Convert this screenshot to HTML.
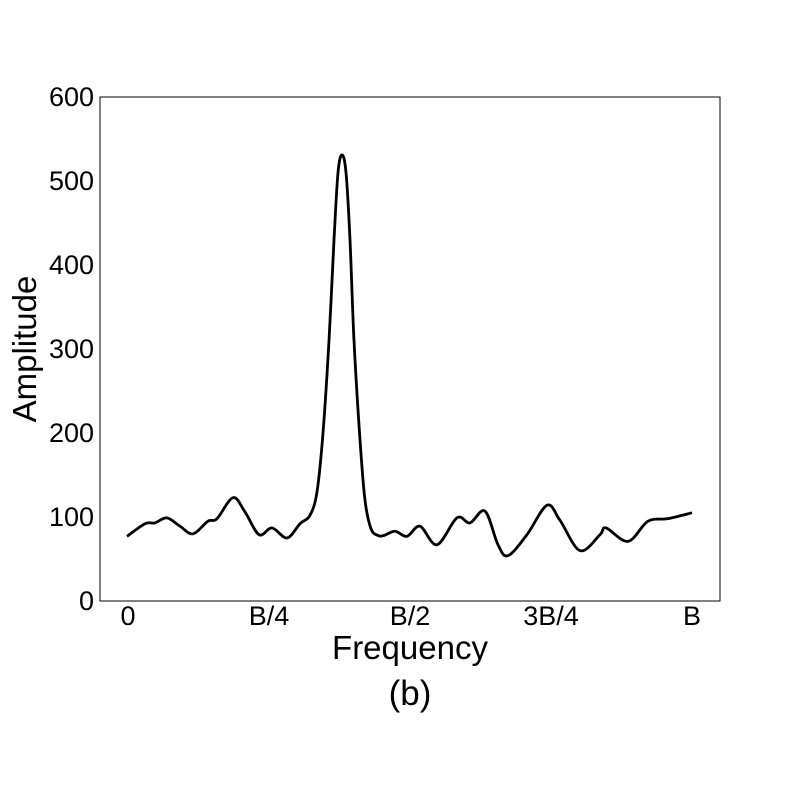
<!DOCTYPE html>
<html><head><meta charset="utf-8"><style>
body{margin:0;background:#fff}
text{font-family:"Liberation Sans",sans-serif;fill:#000}
</style></head><body>
<svg width="800" height="800">
<rect x="100" y="97" width="620" height="504" fill="none" stroke="#000" stroke-width="1"/>
<g id="yt"></g><g id="xt"></g>
<path id="line" fill="none" stroke="#000" stroke-width="2.8" stroke-linejoin="round"/>
<text x="36" y="349" font-size="33" text-anchor="middle" transform="rotate(-90 36 349)">Amplitude</text>
<text x="410" y="659" font-size="33" text-anchor="middle">Frequency</text>
<text x="410" y="705" font-size="35" text-anchor="middle">(b)</text>
</svg>
<script>
const yTicks=[0,100,200,300,400,500,600];
const xTicks=[0,0.25,0.5,0.75,1];
const xTickLabels=["0","B/4","B/2","3B/4","B"];
const freqPx=[127,145,155,167,180,193,208,217,233,245,259,272,287,300,310,317,323,329,334,338,342,346,350,354,360,365,371,378,384,395,407,420,437,457,470,485,498,508,527,547,560,580,600,606,628,648,668,692];
const amps=[77,92,93,99,89,80,95,98,123,106,79,87,75,92,102,130,200,310,430,510,531,510,430,310,192,120,86,78,78,83,77,89,67,99,93,107,67,54,79,114,96,60,79,87,71,95,98,105];
const freqs=freqPx.map(p=>(p-128)/564);
const X=f=>128+f*564, Y=v=>601-v*0.84;
const ns="http://www.w3.org/2000/svg";
const yt=document.getElementById('yt'), xt=document.getElementById('xt');
yTicks.forEach(v=>{const t=document.createElementNS(ns,'text');
t.setAttribute('x',94);t.setAttribute('y',Y(v)+9);t.setAttribute('font-size',27);t.setAttribute('text-anchor','end');


t.textContent=v;yt.appendChild(t);});
xTicks.forEach((v,i)=>{const t=document.createElementNS(ns,'text');
t.setAttribute('x',X(v));t.setAttribute('y',625);t.setAttribute('font-size',27);t.setAttribute('text-anchor','middle');


t.textContent=xTickLabels[i];xt.appendChild(t);});
const P=freqs.map((f,i)=>[X(f),Y(amps[i])]);
let d=`M${P[0][0]},${P[0][1]}`;
for(let i=0;i<P.length-1;i++){const p0=P[Math.max(0,i-1)],p1=P[i],p2=P[i+1],p3=P[Math.min(P.length-1,i+2)];
d+=` C${p1[0]+(p2[0]-p0[0])/6},${p1[1]+(p2[1]-p0[1])/6} ${p2[0]-(p3[0]-p1[0])/6},${p2[1]-(p3[1]-p1[1])/6} ${p2[0]},${p2[1]}`;}
document.getElementById('line').setAttribute('d',d);
</script>
</body></html>
